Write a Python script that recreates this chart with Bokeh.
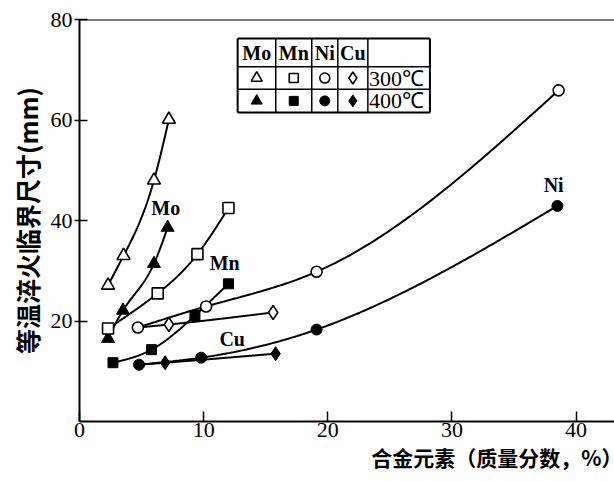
import numpy as np
from bokeh.plotting import figure
from bokeh.models import Range1d, FixedTicker, Label, Span, Title
from bokeh.embed import file_html
from bokeh.resources import INLINE

# ---------------- data ----------------
mo300_x = [2.3, 3.55, 6.0, 7.2]
mo300_y = [27.1, 33.0, 48.0, 60.1]
mo400_x = [2.3, 3.5, 6.0, 7.1]
mo400_y = [16.5, 22.1, 31.4, 38.6]

mn300_x = [2.3, 6.3, 9.5, 12.0]
mn300_y = [18.5, 25.5, 33.3, 42.5]
mn400_x = [2.7, 5.8, 9.3, 12.0]
mn400_y = [11.7, 14.3, 21.1, 27.4]

ni300_x = [4.7, 10.2, 19.1, 38.6]
ni300_y = [18.7, 22.9, 29.8, 65.9]
ni400_x = [4.8, 9.8, 19.1, 38.5]
ni400_y = [11.3, 12.7, 18.3, 42.9]

cu300_x = [7.2, 15.6]
cu300_y = [19.3, 21.7]
cu400_x = [6.9, 15.8]
cu400_y = [11.7, 13.5]

x_ticks = [0, 10, 20, 30, 40]
y_ticks = [20, 40, 60, 80]
elements = ["Mo", "Mn", "Ni", "Cu"]
temps = ["300℃", "400℃"]
x_title = "合金元素（质量分数，%）"
y_title = "等温淬火临界尺寸(mm)"

SERIF = "Liberation Serif"
CJK = "Noto Sans CJK SC"


def spline(xs, ys, n=200):
    """Natural cubic spline through the points (for drawing smooth curves)."""
    x = np.asarray(xs, float)
    y = np.asarray(ys, float)
    m = len(x)
    if m < 3:
        return list(x), list(y)
    h = np.diff(x)
    A = np.zeros((m, m))
    r = np.zeros(m)
    A[0, 0] = A[-1, -1] = 1
    for i in range(1, m - 1):
        A[i, i - 1] = h[i - 1]
        A[i, i] = 2 * (h[i - 1] + h[i])
        A[i, i + 1] = h[i]
        r[i] = 3 * ((y[i + 1] - y[i]) / h[i] - (y[i] - y[i - 1]) / h[i - 1])
    c = np.linalg.solve(A, r)
    b = (y[1:] - y[:-1]) / h - h * (2 * c[:-1] + c[1:]) / 3
    d = (c[1:] - c[:-1]) / (3 * h)
    xx = np.linspace(x[0], x[-1], n)
    idx = np.clip(np.searchsorted(x, xx, side="right") - 1, 0, m - 2)
    dx = xx - x[idx]
    yy = y[idx] + b[idx] * dx + c[idx] * dx ** 2 + d[idx] * dx ** 3
    return list(xx), list(yy)


p = figure(width=614, height=481, output_backend="svg", toolbar_location=None,
           x_range=Range1d(0, 43.1), y_range=Range1d(0, 80),
           min_border_left=79, min_border_right=0, min_border_top=19,
           min_border_bottom=60, background_fill_color="white",
           border_fill_color="white")
p.outline_line_color = None
p.xgrid.visible = False
p.ygrid.visible = False

for ax in (p.xaxis[0], p.yaxis[0]):
    ax.axis_line_width = 2
    ax.axis_line_color = "black"
    ax.major_tick_line_width = 1.5
    ax.major_tick_line_color = "black"
    ax.minor_tick_line_color = None
    ax.major_label_text_font = SERIF
    ax.major_label_text_font_size = "22px"
    ax.major_label_text_color = "black"

p.xaxis.ticker = FixedTicker(ticks=x_ticks)
p.yaxis.ticker = FixedTicker(ticks=y_ticks)
p.xaxis.major_tick_in = 10
p.xaxis.major_tick_out = 0
p.xaxis.major_label_standoff = 1
p.yaxis.major_tick_in = 8
p.yaxis.major_tick_out = 5
p.yaxis.major_label_standoff = 2

p.add_layout(Span(location=80, dimension="width", line_color="black", line_width=2))

# ---------------- curves ----------------
curves = [
    (mo300_x, mo300_y), (mo400_x, mo400_y),
    (mn300_x, mn300_y), (mn400_x, mn400_y),
    (ni300_x, ni300_y), (ni400_x, ni400_y),
    ([ni300_x[0]] + cu300_x, [ni300_y[0]] + cu300_y),
    ([ni400_x[0]] + cu400_x, [ni400_y[0]] + cu400_y),
]
for xs, ys in curves:
    sx, sy = spline(xs, ys)
    p.line(sx, sy, line_color="black", line_width=2)

# ---------------- markers ----------------
open_kw = dict(fill_color="white", line_color="black", line_width=1.6)
fill_kw = dict(fill_color="black", line_color="black", line_width=1)

series = [
    (mo300_x, mo300_y, "triangle", 13, open_kw),
    (mo400_x, mo400_y, "triangle", 13, fill_kw),
    (mn300_x, mn300_y, "square", 11, open_kw),
    (mn400_x, mn400_y, "square", 10, fill_kw),
    (cu300_x, cu300_y, "diamond", 14, open_kw),
    (cu400_x, cu400_y, "diamond", 14, fill_kw),
    (ni300_x, ni300_y, "circle", 11, open_kw),
    (ni400_x, ni400_y, "circle", 11, fill_kw),
]
for xs, ys, mk, sz, kw in series:
    p.scatter(xs, ys, marker=mk, size=sz, **kw)

# ---------------- curve labels ----------------
curve_labels = [("Mo", 6.95, 42.4), ("Mn", 11.7, 31.6), ("Cu", 12.3, 16.5), ("Ni", 38.2, 47.0)]
for txt, lx, ly in curve_labels:
    p.add_layout(Label(x=lx, y=ly, text=txt, text_font=SERIF, text_font_size="20px",
                       text_font_style="bold", text_align="center",
                       text_baseline="middle", text_color="black"))

# ---------------- legend table ----------------
col_edges = [12.74, 15.81, 18.71, 20.81, 23.23, 28.23]
row_edges = [76.2, 70.6, 66.1, 61.5]
for xe in col_edges:
    p.segment(x0=xe, y0=row_edges[-1], x1=xe, y1=row_edges[0], line_color="black",
              line_width=2 if xe in (col_edges[0], col_edges[-1]) else 1.5)
for ye in row_edges:
    p.segment(x0=col_edges[0], y0=ye, x1=col_edges[-1], y1=ye, line_color="black",
              line_width=2 if ye in (row_edges[0], row_edges[-1]) else 1.5)

col_c = [(col_edges[i] + col_edges[i + 1]) / 2 for i in range(4)]
row_c = [(row_edges[i] + row_edges[i + 1]) / 2 for i in range(3)]
for name, cx in zip(elements, col_c):
    p.add_layout(Label(x=cx, y=row_c[0], text=name, text_font=SERIF, text_font_size="20px",
                       text_font_style="bold", text_align="center", text_baseline="middle",
                       text_color="black"))
leg_markers = ["triangle", "square", "circle", "diamond"]
leg_sizes = [11, 9, 10, 12]
for r, kw in ((1, open_kw), (2, fill_kw)):
    p.scatter(col_c, [row_c[r]] * 4, marker=leg_markers, size=leg_sizes, **kw)
for r, t in zip((1, 2), temps):
    p.add_layout(Label(x=col_edges[4] + 0.1, y=row_c[r], text=t, text_font=SERIF,
                       text_font_size="22px", text_align="left", text_baseline="middle",
                       text_color="black"))

# ---------------- axis titles ----------------
p.add_layout(Title(text=y_title, align="center", offset=68,
                   text_font=CJK, text_font_size="25px", text_font_style="bold",
                   text_color="black", standoff=6), "left")
p.add_layout(Title(text=x_title, align="right", offset=-8,
                   text_font=CJK, text_font_size="21px", text_font_style="bold",
                   text_color="black", standoff=0), "below")

open("out.html", "w").write(file_html(p, INLINE))
